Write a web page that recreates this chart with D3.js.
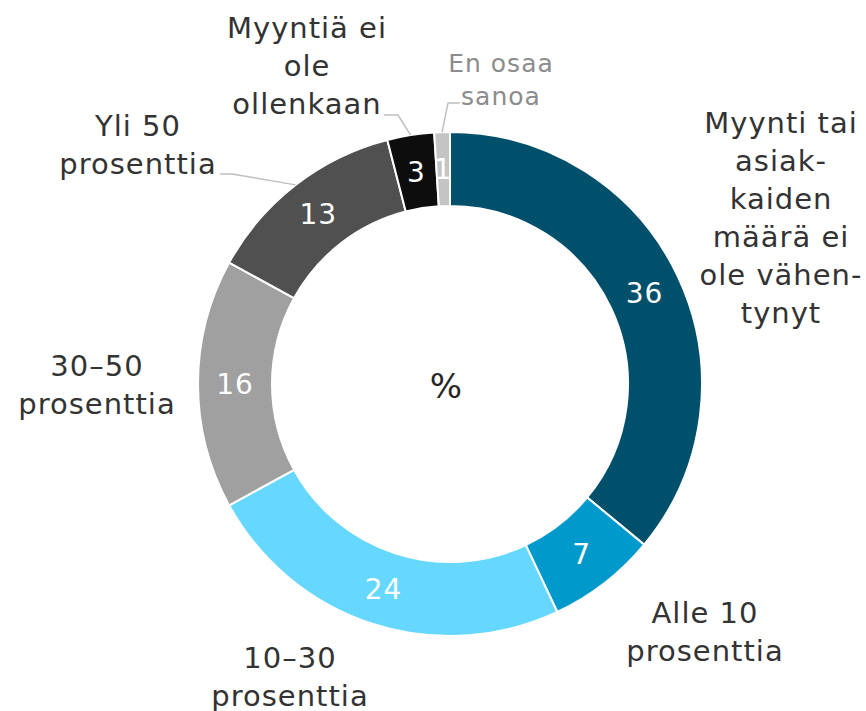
<!DOCTYPE html>
<html>
<head>
<meta charset="utf-8">
<script src="https://d3js.org/d3.v7.min.js"></script>
<style>
  body { margin: 0; background: #fff; }
  text { font-family: "DejaVu Sans", Verdana, sans-serif; }
</style>
</head>
<body>
<svg id="chart" width="866" height="711"></svg>
<script>
// data
const categories = [
  ["Myynti tai", "asiak-", "kaiden", "määrä ei", "ole vähen-", "tynyt"],
  ["Alle 10", "prosenttia"],
  ["10–30", "prosenttia"],
  ["30–50", "prosenttia"],
  ["Yli 50", "prosenttia"],
  ["Myyntiä ei", "ole", "ollenkaan"],
  ["En osaa", "sanoa"]
];
const values = [36, 7, 24, 16, 13, 3, 1];
const colors = ["#00506b", "#0099cc", "#66d8ff", "#a0a0a0", "#505050", "#0d0d0d", "#c4c4c4"];

// label layout (centre x, first baseline)
const labelPos = [
  [781, 133], [705, 623], [290, 668], [97, 376], [138, 136], [307, 38], [501, 72]
];

let svg = d3.select("svg#chart");
let cx = 450, cy = 384;
let rOuter = 252, rInner = 178;

let pie = d3.pie().sort(null).value(d => d);
let arcs = pie(values);
let arc = d3.arc().innerRadius(rInner).outerRadius(rOuter);
let midArc = d3.arc().innerRadius(215).outerRadius(215);
let edgeArc = d3.arc().innerRadius(rOuter).outerRadius(rOuter);

let g = svg.append("g").attr("transform", "translate(" + cx + "," + cy + ")");

//draw slices
g.selectAll("path.slice")
  .data(arcs)
  .enter().append("path")
  .attr("class", "slice")
  .attr("d", arc)
  .style("fill", (d, i) => colors[i])
  .style("stroke", "#fff")
  .style("stroke-width", 2);

//value labels
g.selectAll("text.val")
  .data(arcs)
  .enter().append("text")
  .attr("class", "val")
  .attr("x", d => midArc.centroid(d)[0])
  .attr("y", d => midArc.centroid(d)[1])
  .attr("text-anchor", "middle")
  .attr("dy", "0.36em")
  .style("font-size", "28px")
  .style("letter-spacing", "1px")
  .style("fill", "#fff")
  .text(d => d.data);

//centre
svg.append("text")
  .attr("x", 446).attr("y", 398)
  .attr("text-anchor", "middle")
  .style("font-size", "34px")
  .style("fill", "#262626")
  .text("%");

//category labels
categories.forEach(function(lines, i) {
  let t = svg.append("text")
    .attr("text-anchor", "middle")
    .style("font-size", i == 6 ? "25px" : "29px")
    .style("letter-spacing", "1px")
    .style("fill", i == 6 ? "#8c8c8c" : "#333333");
  lines.forEach(function(l, j) {
    t.append("tspan")
      .attr("x", labelPos[i][0])
      .attr("y", labelPos[i][1] + j * (i == 6 ? 33 : 38))
      .text(l);
  });
});

//leader lines for the small slices
const leaders = [
  [4, [[220, 174], [232, 174]]],
  [5, [[384, 115], [398, 115]]],
  [6, [[460, 103], [448, 103]]]
];
leaders.forEach(function(l) {
  let a = arcs[l[0]];
  let p = edgeArc.centroid(a);
  let pts = l[1].concat([[cx + p[0], cy + p[1]]]);
  svg.append("polyline")
    .attr("points", pts.map(q => q.join(",")).join(" "))
    .style("fill", "none")
    .style("stroke", "#bfbfbf")
    .style("stroke-width", 1.5);
});
</script>
</body>
</html>
